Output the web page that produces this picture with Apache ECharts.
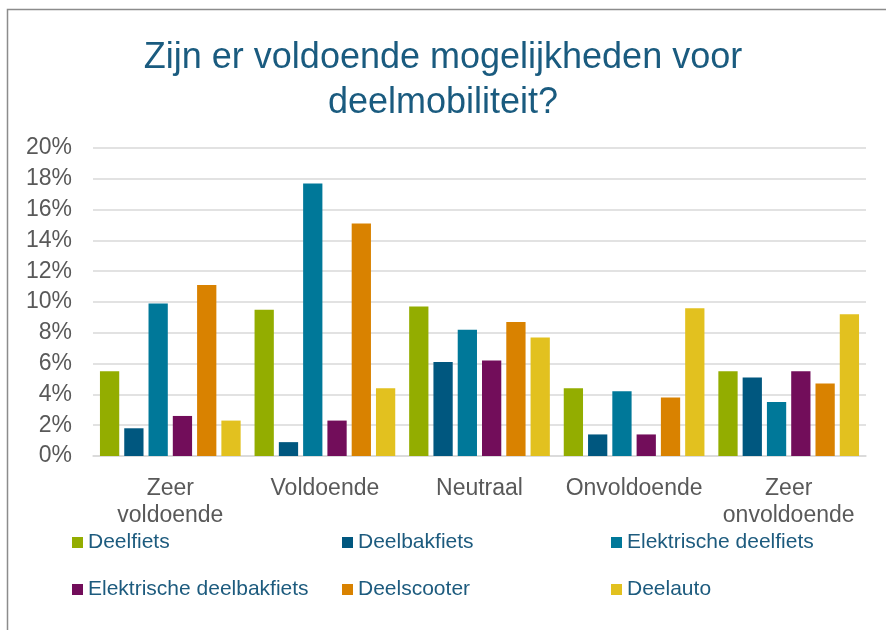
<!DOCTYPE html>
<html>
<head>
<meta charset="utf-8">
<title>Deelmobiliteit</title>
<script src="https://cdn.jsdelivr.net/npm/echarts@6/dist/echarts.min.js"></script>
<style>
  html, body { margin: 0; padding: 0; background: #fff; }
  #chart { width: 886px; height: 630px; }
</style>
</head>
<body>
<div id="chart"></div>
<script>
// categorieen op de x-as
const categories = ["Zeer\nvoldoende", "Voldoende", "Neutraal", "Onvoldoende", "Zeer\nonvoldoende"];
const yTicks = [0, 2, 4, 6, 8, 10, 12, 14, 16, 18, 20];

// waarden in procenten
const deelfiets = [5.5, 9.5, 9.7, 4.4, 5.5];
const deelbakfiets = [1.8, 0.9, 6.1, 1.4, 5.1];
const elektrischeDeelfiets = [9.9, 17.7, 8.2, 4.2, 3.5];
const elektrischeDeelbakfiets = [2.6, 2.3, 6.2, 1.4, 5.5];
const deelscooter = [11.1, 15.1, 8.7, 3.8, 4.7];
const deelauto = [2.3, 4.4, 7.7, 9.6, 9.2];

const seriesNames = ["Deelfiets", "Deelbakfiets", "Elektrische deelfiets", "Elektrische deelbakfiets", "Deelscooter", "Deelauto"];
const seriesData = [deelfiets, deelbakfiets, elektrischeDeelfiets, elektrischeDeelbakfiets, deelscooter, deelauto];
const colors = ["#93ad00", "#00577f", "#007899", "#720d5a", "#d98200", "#e2c11f"];

const myChart = echarts.init(document.getElementById("chart"));

// legenda: 3 kolommen, 2 rijen
const legendLeft = [72, 342, 611];
const legendTop = [532, 579];
const legends = seriesNames.map((name, i) => ({
  data: [name],
  left: legendLeft[i % 3],
  top: legendTop[Math.floor(i / 3)],
  padding: 0,
  icon: "rect",
  itemWidth: 11,
  itemHeight: 11,
  selectedMode: false,
  textStyle: {
    color: "#1d5b7e",
    fontSize: 21,
    fontFamily: "Liberation Sans, Arial, sans-serif",
  },
}));

const option = {
  color: colors,
  animation: false,
  title: {
    text: "Zijn er voldoende mogelijkheden voor\ndeelmobiliteit?",
    left: "center",
    top: 31,
    textStyle: {
      color: "#1a5b7f",
      fontSize: 36,
      fontWeight: "normal",
      lineHeight: 45,
      fontFamily: "Liberation Sans, Arial, sans-serif",
    },
  },
  legend: legends,
  grid: {
    left: 93,
    right: 20,
    top: 148,
    bottom: 174,
  },
  xAxis: {
    type: "category",
    data: categories,
    axisTick: { show: false },
    axisLine: {
      lineStyle: { color: "#d9d9d9", width: 1.5 },
    },
    axisLabel: {
      color: "#595959",
      fontSize: 23,
      lineHeight: 27,
      margin: 19,
      interval: 0,
      fontFamily: "Liberation Sans, Arial, sans-serif",
    },
  },
  yAxis: {
    type: "value",
    min: yTicks[0],
    max: yTicks[yTicks.length - 1],
    interval: 2,
    axisLine: { show: false },
    axisTick: { show: false },
    axisLabel: {
      color: "#595959",
      fontSize: 23,
      margin: 21,
      padding: [4, 0, 0, 0],
      formatter: "{value}%",
      fontFamily: "Liberation Sans, Arial, sans-serif",
    },
    splitLine: {
      lineStyle: { color: "#d9d9d9", width: 1.5 },
    },
  },
  series: seriesNames.map((name, i) => ({
    name: name,
    type: "bar",
    data: seriesData[i],
    barGap: "26%",
    barCategoryGap: "9%",
  })),
  graphic: [
    {
      // kader rond de grafiek
      type: "rect",
      silent: true,
      shape: { x: 7.5, y: 9.5, width: 900, height: 700 },
      style: { fill: "none", stroke: "#8c8c8c", lineWidth: 1.5 },
    },
  ],
};

myChart.setOption(option);
</script>
</body>
</html>
